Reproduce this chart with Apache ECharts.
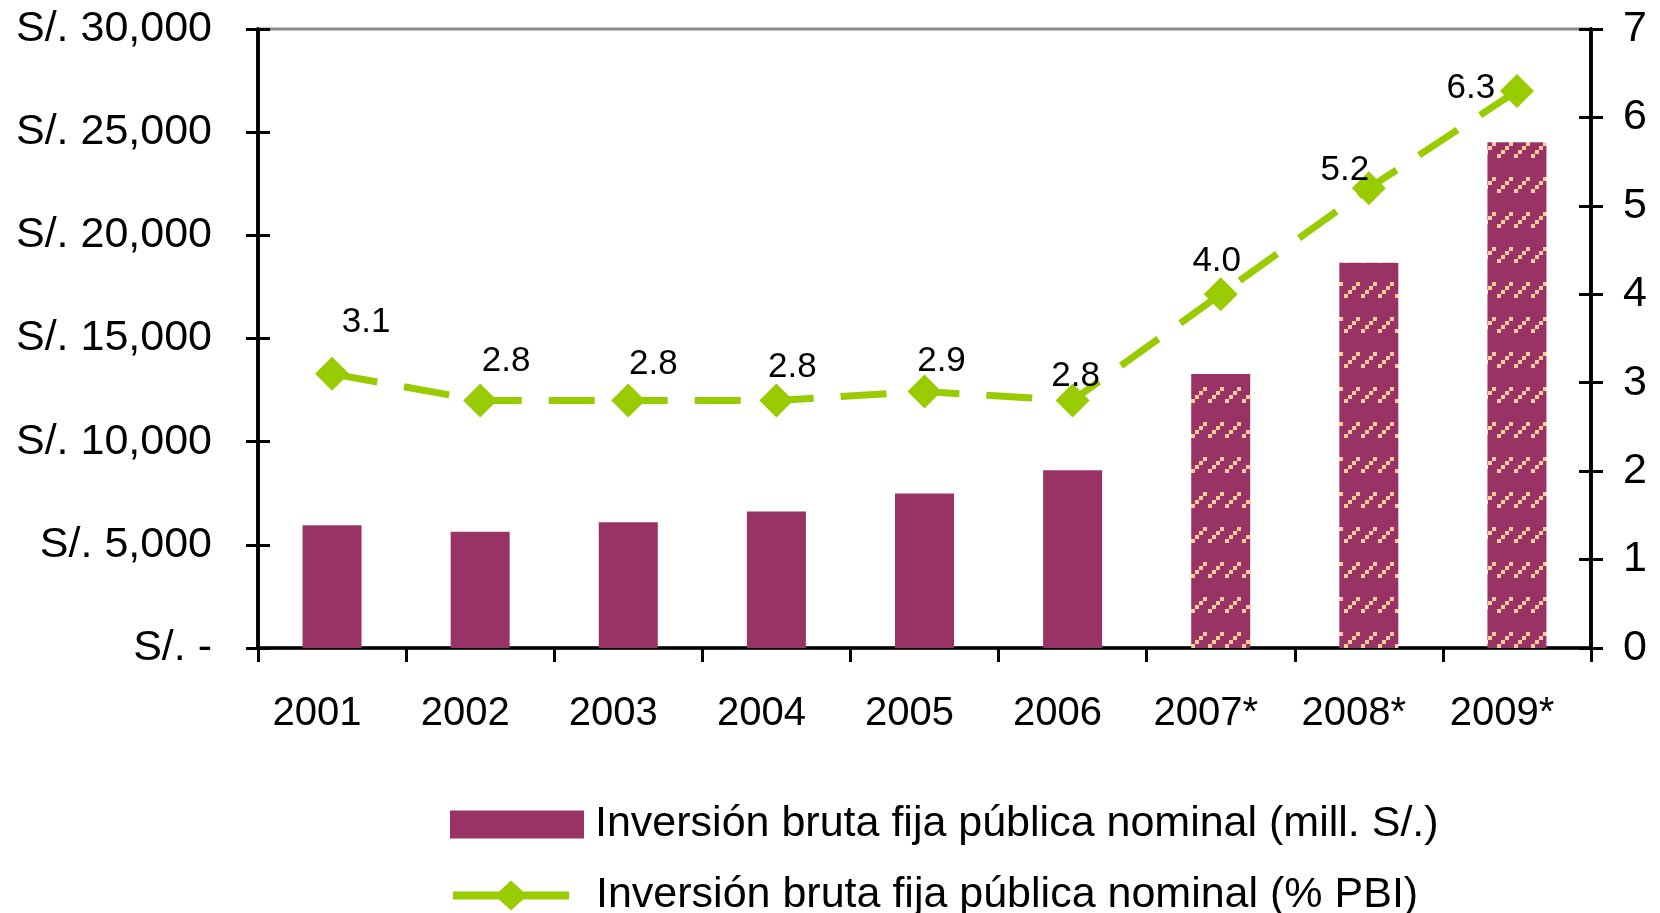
<!DOCTYPE html>
<html>
<head>
<meta charset="utf-8">
<title>Inversión bruta fija pública</title>
<script src="https://cdn.jsdelivr.net/npm/echarts@6/dist/echarts.min.js"></script>
<style>
html,body{margin:0;padding:0;background:#fff}
#chart{width:1660px;height:913px}
</style>
</head>
<body>
<div id="chart"></div>
<script>
// datos
var years = ['2001','2002','2003','2004','2005','2006','2007*','2008*','2009*'];
var inversionMill = [5950, 5640, 6100, 6620, 7490, 8620, 13280, 18670, 24510];
var inversionPbi = [3.1, 2.8, 2.8, 2.8, 2.9, 2.8, 4.0, 5.2, 6.3];
// desplazamiento de cada etiqueta respecto a su punto (como en el original)
var labelOffsets = [[34,-52],[26,-39],[25,-36],[16,-33],[17,-30],[3,-24],[-4,-33],[-24,-18],[-46,-3]];

var nombreMill = 'Inversión bruta fija pública nominal (mill. S/.)';
var nombrePbi = 'Inversión bruta fija pública nominal (% PBI)';

var font = "'Liberation Sans', Arial, sans-serif";
var plum = '#993366';
var green = '#99CC00';

// trama de los años estimados
var tile = document.createElement('canvas');
tile.width = 17; tile.height = 35;
var ctx = tile.getContext('2d');
ctx.fillStyle = plum;
ctx.fillRect(0, 0, 17, 35);
ctx.fillStyle = '#FFCC99';
[[1,14],[5,10],[9,6],[13,2]].forEach(function(p){ ctx.fillRect(p[0], p[1], 4, 4); });

var barData = inversionMill.map(function(v, i){
    if (years[i].indexOf('*') > -1) {
        return {value: v, itemStyle: {color: {image: tile, repeat: 'repeat'}}};
    }
    return v;
});
var lineData = inversionPbi.map(function(v, i){
    return {value: v, label: {offset: labelOffsets[i]}};
});

var axisBlack = {show: true, lineStyle: {color: '#000', width: 3.5}};
var tickStyle = {color: '#000', width: 3};
var legendText = {fontSize: 43, color: '#000', fontFamily: font};

// icono de leyenda: linea con rombo al centro
var iconoLinea = 'path://M0,11 L46,11 L58,0 L70,11 L116,11 L116,19 L70,19 L58,30 L46,19 L0,19 Z';

var option = {
    animation: false,
    backgroundColor: '#fff',
    textStyle: {fontFamily: font},
    grid: {left: 258, right: 69, top: 29, bottom: 265, show: true, borderColor: '#8c8c8c', borderWidth: 3, backgroundColor: 'transparent'},
    legend: [
        {
            left: 450, top: 803, padding: 0, itemWidth: 134, itemHeight: 28,
            textStyle: Object.assign({padding: [0, 0, 0, 6]}, legendText),
            data: [{name: nombreMill, icon: 'rect'}]
        },
        {
            left: 453, top: 874, padding: 0, itemWidth: 116, itemHeight: 30,
            textStyle: Object.assign({padding: [0, 0, 0, 22]}, legendText),
            data: [{name: nombrePbi, icon: iconoLinea}]
        }
    ],
    xAxis: {
        type: 'category',
        data: years,
        axisLine: axisBlack,
        axisTick: {show: true, length: 14, lineStyle: tickStyle},
        axisLabel: {fontSize: 40, color: '#000', margin: 46, padding: [0, 30, 0, 0], fontFamily: font},
        splitLine: {show: false}
    },
    yAxis: [
        {
            type: 'value', position: 'left', min: 0, max: 30000, interval: 5000,
            axisLine: axisBlack,
            axisTick: {show: true, length: 12, lineStyle: tickStyle},
            axisLabel: {fontSize: 43, color: '#000', margin: 46, fontFamily: font,
                formatter: function(v){ return v === 0 ? 'S/. -' : 'S/. ' + v.toLocaleString('en-US'); }},
            splitLine: {show: false}
        },
        {
            type: 'value', position: 'right', min: 0, max: 7, interval: 1,
            axisLine: axisBlack,
            axisTick: {show: true, length: 12, lineStyle: tickStyle},
            axisLabel: {fontSize: 43, color: '#000', margin: 32, fontFamily: font},
            splitLine: {show: false}
        },
        {
            type: 'value', position: 'left', min: 0, max: 30000, interval: 5000,
            axisLine: axisBlack,
            axisTick: {show: true, inside: true, length: 12, lineStyle: tickStyle},
            axisLabel: {show: false},
            splitLine: {show: false}
        },
        {
            type: 'value', position: 'right', min: 0, max: 7, interval: 1,
            axisLine: axisBlack,
            axisTick: {show: true, inside: true, length: 12, lineStyle: tickStyle},
            axisLabel: {show: false},
            splitLine: {show: false}
        }
    ],
    series: [
        {
            name: nombreMill,
            type: 'bar',
            yAxisIndex: 0,
            barWidth: 59,
            itemStyle: {color: plum},
            data: barData
        },
        {
            name: nombrePbi,
            type: 'line',
            yAxisIndex: 1,
            z: 5,
            symbol: 'diamond',
            symbolSize: [34, 34],
            itemStyle: {color: green},
            lineStyle: {color: green, width: 7, type: [46, 27]},
            label: {
                show: true, position: 'inside', fontSize: 35, color: '#000', fontFamily: font,
                formatter: function(p){ return p.value.toFixed(1); }
            },
            data: lineData
        }
    ]
};

var myChart = echarts.init(document.getElementById('chart'));
myChart.setOption(option);
</script>
</body>
</html>
